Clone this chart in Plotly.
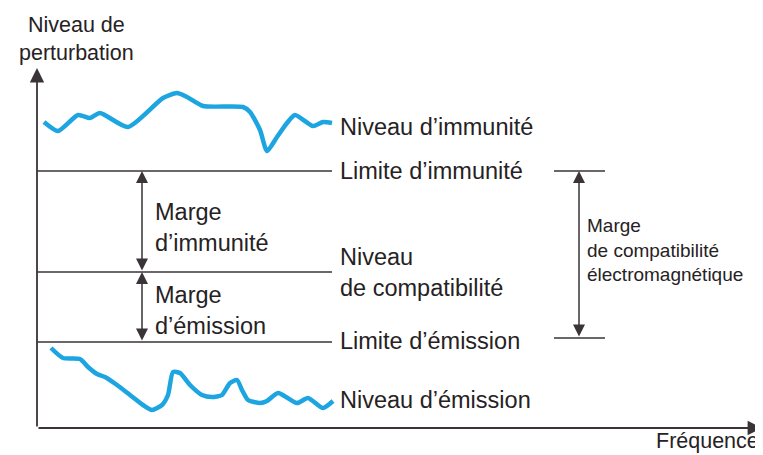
import plotly.graph_objects as go

# Data (frequency / disturbance level, origin at the axes corner)
immunity_x = [7, 21, 41, 53, 63, 91, 126, 140, 150, 166, 206, 213, 223, 230, 240, 250, 258, 276, 286, 295]
immunity_y = [306, 297, 313, 310, 315, 301, 330, 335, 331, 322, 321, 316, 298, 277, 291, 305, 313, 302, 306, 305]

emission_x = [14, 26, 43, 51, 60, 68, 80, 93, 106, 115, 125, 131, 136, 143, 153, 165, 175, 185, 193, 200,
              205, 211, 223, 230, 241, 260, 271, 286, 296]
emission_y = [80, 70, 69, 61, 54, 51, 43, 33, 23, 18, 23, 33, 56, 55, 43, 33, 31, 33, 45, 48,
              38, 28, 25, 27, 35, 25, 30, 20, 27]

immunity_limit = 257
compat_level = 156
emission_limit = 86
lines_end = 295

bracket_x = 542
bracket_top = 257
bracket_bottom = 90
bracket_tick = [517, 568]
margin_arrow_x = 105

axis_x_end = 725
axis_y_end = 360

BLUE = '#1ca5e0'
DARK = '#3a3338'
TEXT = '#262224'
FONT = 'Liberation Sans, Arial, sans-serif'

fig = go.Figure()

# Blue curves
fig.add_trace(go.Scatter(x=immunity_x, y=immunity_y, mode='lines',
                         line=dict(color=BLUE, width=4.5, shape='spline', smoothing=0.6),
                         showlegend=False, hoverinfo='skip'))
fig.add_trace(go.Scatter(x=emission_x, y=emission_y, mode='lines',
                         line=dict(color=BLUE, width=4.5, shape='spline', smoothing=0.6),
                         showlegend=False, hoverinfo='skip'))

# Horizontal levels
for lvl in [immunity_limit, compat_level, emission_limit]:
    fig.add_trace(go.Scatter(x=[0, lines_end], y=[lvl, lvl], mode='lines',
                             line=dict(color=DARK, width=1.5),
                             showlegend=False, hoverinfo='skip'))

# Bracket ticks on the right
for lvl in [bracket_top, bracket_bottom]:
    fig.add_trace(go.Scatter(x=bracket_tick, y=[lvl, lvl], mode='lines',
                             line=dict(color=DARK, width=1.5),
                             showlegend=False, hoverinfo='skip'))


def arrow(x0, y0, x1, y1, both=False, width=1.5):
    fig.add_annotation(x=x1, y=y1, ax=x0, ay=y0, xref='x', yref='y', axref='x', ayref='y',
                       text='', showarrow=True, arrowhead=2, arrowsize=1.6, arrowwidth=width,
                       arrowcolor=DARK, arrowside='end+start' if both else 'end',
                       startarrowhead=2, startarrowsize=1.6)


# Axes
arrow(0, 0, 0, axis_y_end, width=1.8)
arrow(0, 0, axis_x_end, 0, width=1.8)

# Margin arrows
arrow(margin_arrow_x, compat_level, margin_arrow_x, immunity_limit, both=True)
arrow(margin_arrow_x, emission_limit, margin_arrow_x, compat_level, both=True)
arrow(bracket_x, bracket_bottom, bracket_x, bracket_top, both=True)


def label(x, y, txt, size=23.5, anchor='left', align='left'):
    fig.add_annotation(x=x, y=y, xref='x', yref='y', text=txt, showarrow=False,
                       xanchor=anchor, yanchor='middle', align=align, borderpad=0,
                       font=dict(family=FONT, size=size, color=TEXT))


label(302, 301, "Niveau d’immunité")
label(302, 257, "Limite d’immunité")
label(302, 156, "Niveau<br>de compatibilité")
label(302, 87, "Limite d’émission")
label(302, 28, "Niveau d’émission")
label(117, 201, "Marge<br>d’immunité")
label(117, 118, "Marge<br>d’émission")
label(549, 178, "Marge<br>de compatibilité<br>électromagnétique", size=19)
label(39, 389, "Niveau de<br>perturbation", anchor='center', align='center', size=21.5)
label(723, -13, "Fréquence", anchor='right', size=21.5)

# page body has an 8px margin, so the figure is 8px smaller and the ranges shifted
fig.update_layout(
    width=755, height=447,
    margin=dict(l=0, r=0, t=0, b=0),
    plot_bgcolor='white', paper_bgcolor='white',
    showlegend=False,
)
fig.update_xaxes(range=[-29, 726], visible=False)
fig.update_yaxes(range=[-27, 420], visible=False)

fig.write_html("out.html")
